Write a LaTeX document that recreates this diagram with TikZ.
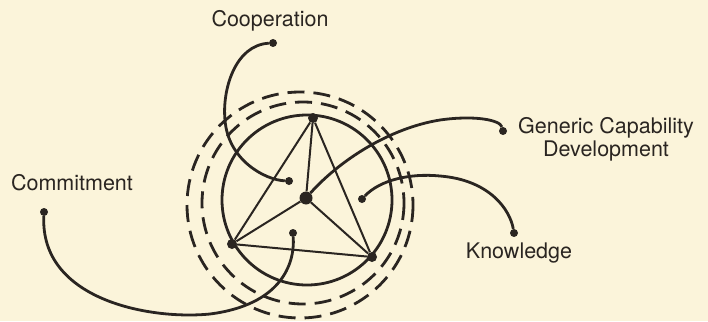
\documentclass[tikz,border=0pt]{standalone}
\usepackage{fontspec}
\setmainfont{TeX Gyre Heros}
\definecolor{paper}{HTML}{FBF4DA}
\definecolor{ink}{HTML}{2A2521}

\begin{document}
\begin{tikzpicture}[x=1pt,y=-1pt,ring/.style={draw=ink,line width=2.8pt},halo/.style={draw=ink,line width=2.8pt,dash pattern=on 17pt off 9pt},edge/.style={draw=ink,line width=2pt},lead/.style={draw=ink,line width=2.8pt},dot/.style={circle,fill=ink,minimum size=8pt,inner sep=0pt},corner/.style={circle,fill=ink,minimum size=10pt,inner sep=0pt},hub/.style={circle,fill=ink,minimum size=13pt,inner sep=0pt},tag/.style={text=ink,font=\fontsize{21.5}{23}\selectfont,inner sep=0pt}]
\fill[paper] (0,0) rectangle (708,321);
\useasboundingbox (0,0) rectangle (708,321);
% rings
\draw[halo] (300,205) circle[radius=113];
\draw[halo] (303,203) circle[radius=101];
\draw[ring] (307,200) circle[radius=85];
% triangle
\node[corner] (top) at (313,118) {};
\node[corner] (left) at (232,244) {};
\node[corner] (right) at (372,257) {};
\node[hub] (hub) at (306,198) {};
\draw[edge] (top) -- (left);
\draw[edge] (left) -- (right);
\draw[edge] (right) -- (top);
\draw[edge] (hub) -- (top);
\draw[edge] (hub) -- (left);
\draw[edge] (hub) -- (right);
% leads
\node[dot] (coop) at (273,43) {};
\node[dot] (coopin) at (289,181) {};
\node[dot] (gen) at (503,131) {};
\node[dot] (know) at (514,233) {};
\node[dot] (knowin) at (362,199) {};
\node[dot] (comm) at (44,212) {};
\node[dot] (commin) at (293,233) {};
\draw[lead] (coop) .. controls (235,45) and (222,90) .. (225,120) .. controls (228,160) and (265,180) .. (coopin);
\draw[lead] (hub) .. controls (340,160) and (390,128) .. (440,120) .. controls (475,115) and (500,120) .. (gen);
\draw[lead] (knowin) .. controls (380,180) and (410,173) .. (440,176) .. controls (490,180) and (510,210) .. (know);
\draw[lead] (comm) .. controls (40,300) and (150,320) .. (210,314) .. controls (280,305) and (295,265) .. (commin);
% labels
\node[tag,anchor=base] (coopname) at (270,27) {Cooperation};
\node[tag,anchor=base] (commname) at (72,190) {Commitment};
\node[tag,anchor=base] (knowname) at (519,258) {Knowledge};
\node[tag,align=center] (genname) at (606,139) {Generic Capability\\Development};
\end{tikzpicture}
\end{document}
